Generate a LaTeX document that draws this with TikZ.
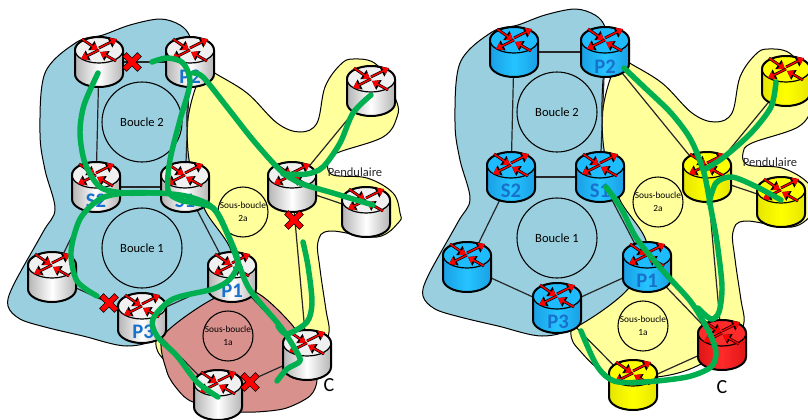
\documentclass[tikz,border=0pt]{standalone}
\usepackage{fontspec}
\setmainfont{Carlito}
\usetikzlibrary{arrows.meta}

\definecolor{sidegray}{HTML}{B4B4B4}
\definecolor{midgray}{HTML}{FFFFFF}
\definecolor{topgray}{HTML}{F0F0F0}
\definecolor{sideblue}{HTML}{1A9FE6}
\definecolor{midblue}{HTML}{25C4FF}
\definecolor{topblue}{HTML}{1FBBFF}
\definecolor{sideyel}{HTML}{E6E600}
\definecolor{midyel}{HTML}{FFFF00}
\definecolor{topyel}{HTML}{FFFF00}
\definecolor{sidered}{HTML}{E01515}
\definecolor{midred}{HTML}{FF2A2A}
\definecolor{topred}{HTML}{FF2A2A}
\definecolor{zoneblue}{HTML}{99CFDE}
\definecolor{zoneyel}{HTML}{FFFF9C}
\definecolor{zonepink}{HTML}{D8918C}
\definecolor{pathgreen}{HTML}{00B050}
\definecolor{labelblue}{HTML}{1872CC}

\tikzset{
  zone/.style={draw=black, line width=.75pt},
  link/.style={draw=black!85, line width=.9pt},
  rnode/.style={circle, inner sep=0pt, minimum size=33pt},
  loopc/.style={circle, draw=black, line width=.8pt, inner sep=0pt, minimum size=60pt, align=center, font=\fontsize{9.4}{10}\selectfont},
  subloop/.style={circle, draw=black, line width=.8pt, inner sep=0pt, minimum size=37.5pt, align=center, font=\fontsize{7}{9.5}\selectfont},
  rlabel/.style={text=labelblue, font=\fontsize{15.5}{15}\selectfont\bfseries, inner sep=0pt},
  greenpath/.style={draw=pathgreen, line width=4.1pt, line cap=round, line join=round},
  rarrow/.style={-{Triangle[length=6pt,width=8pt]}, draw=black, fill=black, line width=2.1pt},
  rarrowin/.style={-{Triangle[length=4.6pt,width=6pt]}, draw=red, fill=red, line width=1.1pt},
  pics/router/.style={code={
    \shade[left color=side#1, right color=side#1, middle color=mid#1]
      (-24,-12) -- (-24,12) arc[start angle=180, end angle=0, x radius=24, y radius=13]
      -- (24,-12) arc[start angle=0, end angle=-180, x radius=24, y radius=13] -- cycle;
    \draw[fill=top#1, line width=.9pt] (0,-12) ellipse[x radius=24, y radius=13];
    \draw[line width=1.5pt] (-24,-12) -- (-24,12) arc[start angle=180, end angle=0, x radius=24, y radius=13]
      -- (24,-12) arc[start angle=0, end angle=-180, x radius=24, y radius=13] -- cycle;
    \foreach \xa/\ya/\xb/\yb in {-17/-23/-1/-12, 0/-14/18/-23, 0/-12/-18/-3, 17/-1/1/-10} {
      \draw[rarrow] (\xa,\ya) -- (\xb,\yb);
      \draw[rarrowin] (\xa,\ya) -- (\xb,\yb);
    }
  }},
  pics/xmark/.style={code={
    \draw[fill=red, draw=black, line width=.4pt, rotate=45]
      (-2.8,-10.5) -- (2.8,-10.5) -- (2.8,-2.8) -- (10.5,-2.8) -- (10.5,2.8) -- (2.8,2.8)
      -- (2.8,10.5) -- (-2.8,10.5) -- (-2.8,2.8) -- (-10.5,2.8) -- (-10.5,-2.8) -- (-2.8,-2.8) -- cycle;
  }},
}

% regions, links and texts are the same in both panels
\newcommand{\panelnodes}{
  \foreach \rname/\rx/\ry in {tl/99/62,P2/190/62,S2/96/187,S1/185/187,fl/52/277,P1/232/277,P3/142/318,bot/218/395,C/307/355,tr/371/91,mid/292/187,pend/366/212} {
    \node [rnode] (\rname) at (\rx,\ry) {};
  }
}
\newcommand{\yellowzone}{
  \draw[zone, fill=zoneyel] plot[smooth cycle, tension=.6] coordinates {(205,65) (213,72) (247,93) (277,123) (300,132) (317,123) (325,87) (340,65) (353,59) (377,65) (396,100) (397,117) (383,137) (337,153) (328,163) (333,175) (367,178) (393,193) (400,213) (399,222) (377,237) (330,231) (318,242) (320,269) (326,310) (329,332) (320,350) (282,376) (242,387) (196,386) (166,362) (156,341) (170,300) (190,240) (187,127)};
}
\newcommand{\bluezone}{
  \draw[zone, fill=zoneblue] plot[smooth cycle, tension=.55] coordinates {(77,42) (103,35) (130,25) (160,19) (180,25) (190,37) (192,60) (188,90) (187,127) (190,165) (205,210) (232,255) (213,299) (163,336) (127,346) (83,336) (45,327) (20,319) (8,306) (13,286) (43,232) (55,209) (45,170) (40,133) (45,73)};
}
\newcommand{\panellinks}{
  \foreach \ra/\rb in {tl/P2,tl/S2,P2/S1,S2/S1,S2/fl,S1/P1,fl/P3,P3/P1,P3/bot,P1/C,bot/C,P2/mid,mid/tr,mid/pend,mid/C} {
    \draw[link] (\ra) -- (\rb);
  }
}
\newcommand{\panelloops}{
  \node [loopc] (boucle2) at (142,122) {\raisebox{-2pt}{Boucle 2}};
  \node [loopc] (boucle1) at (142,248) {\raisebox{-2pt}{Boucle 1}};
  \node [subloop] (sous2a) at (243,212) {Sous-boucle\\2a};
  \node [subloop] (sous1a) at (228,336) {Sous-boucle\\1a};
}
\newcommand{\panellabels}{
  \foreach \rname/\rtext/\lx/\ly in {P2/P2/190/77,S2/S2/96/201,S1/S1/185/201,P1/P1/232/291,P3/P3/143/332} {
    \node [rlabel] (lab\rname) at (\lx,\ly) {\rtext};
  }
  \node [font=\fontsize{9.4}{10}\selectfont, inner sep=0pt, text=black!85] (labpend) at (355,172) {Pendulaire};
}

\begin{document}
\begin{tikzpicture}[x=.75pt, y=-.75pt]
  \useasboundingbox (0,0) rectangle (808,419);

  % left panel
  \begin{scope}[name prefix=L]
    \panelnodes
    \yellowzone
    \bluezone
    \draw[zone, fill=zonepink] plot[smooth cycle, tension=.45] coordinates {(163,336) (213,299) (255,292) (293,326) (307,355) (317,379) (310,396) (283,409) (240,412) (193,402) (178,390) (167,372)};
    \panellinks
    \panelloops
    \foreach \rname in {tl,P2,S2,S1,fl,P1,P3,bot,C,tr,mid,pend} {
      \pic at (\rname) {router=gray};
    }
    \panellabels
    \node [font=\fontsize{15}{15}\selectfont, inner sep=0pt] (labC) at (329,385) {C};
    \draw[greenpath] plot[smooth] coordinates {(98,73) (84,105) (80,133) (85,163) (100,187) (125,193) (160,193) (190,197) (213,208) (228,235) (238,262) (250,290) (280,326) (295,349) (300,361) (287,369) (277,381)};
    \draw[greenpath] plot[smooth] coordinates {(97,296) (77,281) (71,252) (80,219) (100,199) (125,193) (160,193)};
    \draw[greenpath] plot[smooth] coordinates {(152,62) (167,58) (183,63) (190,83) (180,120) (170,160) (168,190) (180,200) (213,208) (228,235) (238,262) (230,279) (213,289) (173,299) (153,319) (157,336) (177,356) (197,382) (218,397)};
    \draw[greenpath] plot[smooth] coordinates {(193,73) (203,77) (227,107) (253,140) (280,170) (300,183) (333,193) (373,205)};
    \draw[greenpath] plot[smooth] coordinates {(371,95) (353,113) (340,143) (323,167) (307,174) (283,174)};
    \draw[greenpath] plot[smooth] coordinates {(303,242) (308,266) (312,302) (307,322) (287,334) (278,326)};
    \foreach \xname/\xx/\xy in {xa/132/62,xb/109/303,xc/250/382,xd/294/220} {
      \pic (\xname) at (\xx,\xy) {xmark};
    }
  \end{scope}

  % right panel
  \begin{scope}[shift={(415,-10)}, name prefix=R]
    \panelnodes
    \yellowzone
    \bluezone
    \panellinks
    \panelloops
    \foreach \rname/\rcolor in {tl/blue,P2/blue,S2/blue,S1/blue,fl/blue,P1/blue,P3/blue,bot/yel,C/red,tr/yel,mid/yel,pend/yel} {
      \pic at (\rname) {router=\rcolor};
    }
    \panellabels
    \node [font=\fontsize{15}{15}\selectfont, inner sep=0pt] (labC) at (307,397) {C};
    \draw[greenpath] plot[smooth] coordinates {(209,78) (229,97) (256,123) (276,150) (289,183) (296,219) (302,252) (307,296) (304,322) (296,329) (283,318)};
    \draw[greenpath] plot[smooth] coordinates {(191,197) (206,218) (222,249) (249,282) (276,312) (294,342) (301,362) (296,377) (272,387) (229,392) (199,391) (182,376) (166,341)};
    \draw[greenpath] plot[smooth] coordinates {(361,92) (356,117) (336,143) (309,167) (289,180)};
    \draw[greenpath] plot[smooth] coordinates {(366,210) (342,197) (317,187) (301,193) (294,213)};
  \end{scope}
\end{tikzpicture}
\end{document}
